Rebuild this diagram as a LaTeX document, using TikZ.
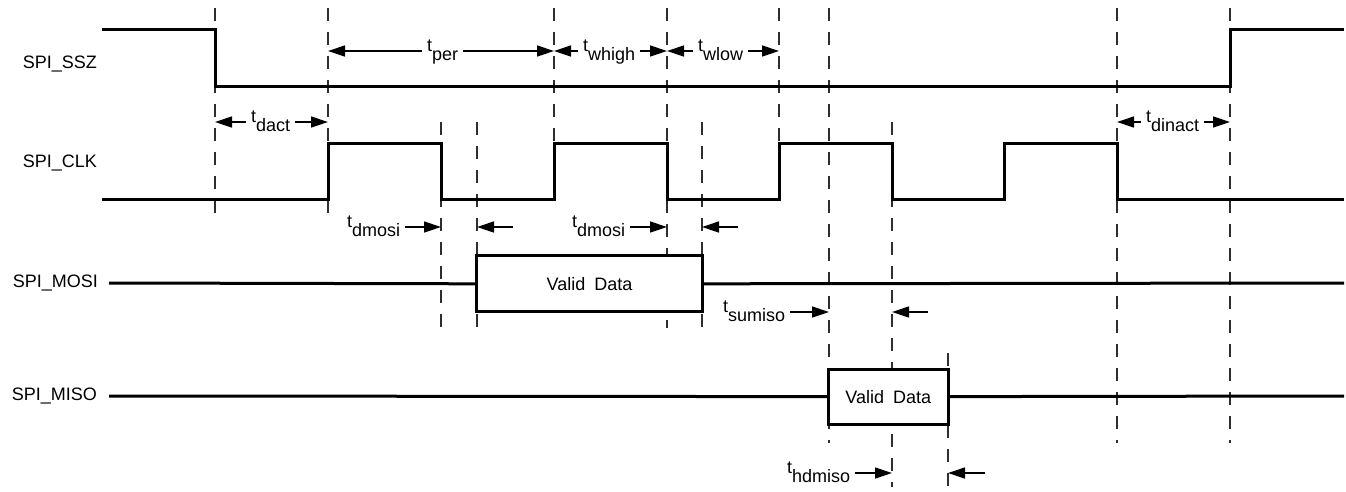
\documentclass[tikz,border=0pt]{standalone}
\usepackage{fontspec}
\setmainfont{Liberation Sans}
\usetikzlibrary{arrows.meta,positioning,calc}
\definecolor{GuideGray}{HTML}{2E2E2E}
\newcommand{\tsub}[1]{t\raisebox{-0.55em}{#1}}
\tikzset{
  wave/.style={draw=black,line width=3pt,line join=miter},
  guide/.style={draw=GuideGray,line width=1.9pt,dash pattern=on 13pt off 11pt},
  guide thick/.style={guide,line width=2.6pt},
  dim arrow/.style={-{Triangle[length=17pt,width=11pt]},line width=1.4pt},
  time label/.style={anchor=base west,inner xsep=5pt,inner ysep=0pt},
  sig label/.style={anchor=east,inner sep=0pt},
  data box/.style={draw=black,line width=3pt,fill=white,minimum height=56pt,inner sep=0pt}
}

\begin{document}
\begin{tikzpicture}[x=1pt,y=-1pt,font=\fontsize{18}{21}\selectfont]
  \useasboundingbox (0,0) rectangle (1346,491);
  % edge positions
  \foreach \name/\x in {sszF/215,clkR1/328,clkF1/441,mosiS/477,clkR2/554,clkF2/667,mosiE/702,
      clkR3/779,misoS/829,clkF3/892,misoE/948,clkF4/1117,sszR/1230}
    \coordinate (\name) at (\x,0);
  % guide lines
  \foreach \x/\ya/\yb in {215/8/220,328/8/220,441/122/338,477/122/338,667/8/328,702/122/338,
      779/8/200,829/8/443,892/122/487,1117/8/443,1230/8/443}
    \draw[guide] (\x,\ya) -- (\x,\yb);
  \draw[guide thick] (554,8) -- (554,200);
  \draw[guide thick] (948,353) -- (948,491);
  % signal names
  \node[sig label] (sszLbl) at (97,64) {SPI\_SSZ};
  \node[sig label] (clkLbl) at (97,163) {SPI\_CLK};
  \node[sig label] (mosiLbl) at (98,283) {SPI\_MOSI};
  \node[sig label] (misoLbl) at (97,396) {SPI\_MISO};
  % waveforms
  \draw[wave] (102,29) -- (215,29) -- (215,86) -- (1230,86) -- (1230,29) -- (1344,29);
  \draw[wave] (102,199) foreach \r/\f in {328/441,554/667,779/892,1004/1117}{
      -- (\r,199) -- (\r,143) -- (\f,143) -- (\f,199)} -- (1344,199);
  \node[data box,minimum width=225.6pt] (mosiData) at (589.5,283.8) {Valid\hspace{0.5em}Data};
  \draw[wave] (109,283) -- (mosiData.west);
  \draw[wave] (mosiData.east) -- (1344,283);
  \node[data box,minimum width=120pt,minimum height=55pt] (misoData) at (888.3,396.6) {Valid\hspace{0.5em}Data};
  \draw[wave] (109,396) -- (misoData.west);
  \draw[wave] (misoData.east) -- (1344,396);
  % timing parameters
  \node[time label] (tper) at (422,51) {\tsub{per}};
  \draw[dim arrow] (tper.base west) -- (clkR1 |- tper.base);
  \draw[dim arrow] (tper.base east) -- (clkR2 |- tper.base);
  \node[time label] (twhigh) at (578,51) {\tsub{whigh}};
  \draw[dim arrow] (twhigh.base west) -- (clkR2 |- twhigh.base);
  \draw[dim arrow] (twhigh.base east) -- (clkF2 |- twhigh.base);
  \node[time label] (twlow) at (693,51) {\tsub{wlow}};
  \draw[dim arrow] (twlow.base west) -- (clkF2 |- twlow.base);
  \draw[dim arrow] (twlow.base east) -- (clkR3 |- twlow.base);
  \node[time label] (tdact) at (246,122) {\tsub{dact}};
  \draw[dim arrow] (tdact.base west) -- (sszF |- tdact.base);
  \draw[dim arrow] (tdact.base east) -- (clkR1 |- tdact.base);
  \node[time label] (tdinact) at (1141,122) {\tsub{dinact}};
  \draw[dim arrow] (tdinact.base west) -- (clkF4 |- tdinact.base);
  \draw[dim arrow] (tdinact.base east) -- (sszR |- tdinact.base);
  \node[time label] (tdmosiA) at (342,227) {\tsub{dmosi}};
  \draw[dim arrow] (tdmosiA.base east) -- (clkF1 |- tdmosiA.base);
  \draw[dim arrow] ($(mosiS |- tdmosiA.base)+(36,0)$) -- (mosiS |- tdmosiA.base);
  \node[time label] (tdmosiB) at (567,227) {\tsub{dmosi}};
  \draw[dim arrow] (tdmosiB.base east) -- (clkF2 |- tdmosiB.base);
  \draw[dim arrow] ($(mosiE |- tdmosiB.base)+(36,0)$) -- (mosiE |- tdmosiB.base);
  \node[time label] (tsumiso) at (718,312) {\tsub{sumiso}};
  \draw[dim arrow] (tsumiso.base east) -- (misoS |- tsumiso.base);
  \draw[dim arrow] ($(clkF3 |- tsumiso.base)+(36,0)$) -- (clkF3 |- tsumiso.base);
  \node[time label] (thdmiso) at (782,473) {\tsub{hdmiso}};
  \draw[dim arrow] (thdmiso.base east) -- (clkF3 |- thdmiso.base);
  \draw[dim arrow] ($(misoE |- thdmiso.base)+(37,0)$) -- (misoE |- thdmiso.base);
\end{tikzpicture}
\end{document}
